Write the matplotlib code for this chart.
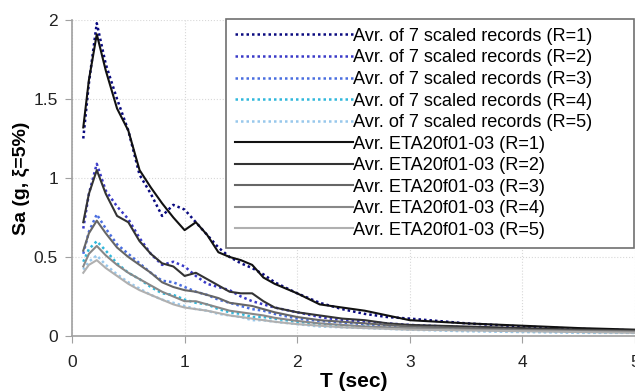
import numpy as np
import matplotlib.pyplot as plt

plt.rcParams['font.family'] = ['Liberation Sans', 'DejaVu Sans']

# period grid (sec)
T = [0.1, 0.15, 0.22, 0.3, 0.4, 0.5, 0.6, 0.7, 0.8, 0.9, 1.0, 1.1, 1.2, 1.3, 1.4,
     1.5, 1.6, 1.7, 1.8, 2.0, 2.2, 2.4, 2.6, 2.8, 3.0, 3.5, 4.0, 4.5, 5.0]

# average of 7 scaled records
rec_r1 = [1.25, 1.60, 1.98, 1.72, 1.50, 1.30, 1.02, 0.90, 0.76, 0.83, 0.80, 0.72, 0.64, 0.56, 0.50,
          0.46, 0.43, 0.39, 0.34, 0.27, 0.21, 0.17, 0.14, 0.12, 0.11, 0.08, 0.06, 0.045, 0.035]
rec_r2 = [0.68, 0.90, 1.09, 0.92, 0.82, 0.74, 0.62, 0.52, 0.45, 0.47, 0.44, 0.38, 0.33, 0.31, 0.29,
          0.25, 0.22, 0.20, 0.18, 0.15, 0.12, 0.10, 0.09, 0.08, 0.07, 0.055, 0.045, 0.035, 0.03]
rec_r3 = [0.52, 0.66, 0.77, 0.68, 0.58, 0.52, 0.46, 0.40, 0.35, 0.34, 0.31, 0.28, 0.26, 0.23, 0.21,
          0.19, 0.17, 0.16, 0.14, 0.11, 0.095, 0.085, 0.075, 0.065, 0.055, 0.045, 0.035, 0.03, 0.025]
rec_r4 = [0.47, 0.55, 0.60, 0.54, 0.46, 0.40, 0.36, 0.31, 0.27, 0.26, 0.23, 0.21, 0.20, 0.17, 0.15,
          0.14, 0.12, 0.12, 0.11, 0.09, 0.075, 0.065, 0.06, 0.05, 0.045, 0.035, 0.03, 0.025, 0.02]
rec_r5 = [0.42, 0.47, 0.51, 0.45, 0.39, 0.34, 0.30, 0.26, 0.23, 0.21, 0.19, 0.17, 0.16, 0.14, 0.13,
          0.12, 0.10, 0.10, 0.09, 0.075, 0.06, 0.055, 0.05, 0.045, 0.04, 0.03, 0.025, 0.02, 0.02]

# average ETA20f01-03
eta_r1 = [1.32, 1.62, 1.91, 1.68, 1.44, 1.30, 1.05, 0.94, 0.84, 0.75, 0.67, 0.72, 0.64, 0.53, 0.50,
          0.48, 0.45, 0.37, 0.33, 0.27, 0.20, 0.18, 0.16, 0.13, 0.10, 0.08, 0.065, 0.05, 0.04]
eta_r2 = [0.72, 0.90, 1.05, 0.90, 0.76, 0.72, 0.60, 0.52, 0.46, 0.44, 0.38, 0.40, 0.36, 0.32, 0.28,
          0.27, 0.27, 0.22, 0.18, 0.15, 0.13, 0.11, 0.10, 0.08, 0.07, 0.06, 0.05, 0.04, 0.035]
eta_r3 = [0.54, 0.65, 0.73, 0.65, 0.56, 0.50, 0.45, 0.40, 0.34, 0.31, 0.29, 0.28, 0.26, 0.24, 0.21,
          0.20, 0.19, 0.17, 0.15, 0.12, 0.10, 0.09, 0.08, 0.07, 0.06, 0.05, 0.04, 0.035, 0.03]
eta_r4 = [0.44, 0.52, 0.57, 0.51, 0.45, 0.40, 0.36, 0.32, 0.28, 0.25, 0.22, 0.22, 0.20, 0.18, 0.16,
          0.15, 0.14, 0.13, 0.115, 0.095, 0.08, 0.07, 0.06, 0.055, 0.05, 0.04, 0.035, 0.03, 0.025]
eta_r5 = [0.40, 0.45, 0.48, 0.43, 0.38, 0.33, 0.29, 0.26, 0.23, 0.20, 0.18, 0.17, 0.16, 0.145, 0.13,
          0.12, 0.11, 0.10, 0.09, 0.075, 0.065, 0.055, 0.05, 0.045, 0.04, 0.035, 0.03, 0.025, 0.02]

rec_series = [rec_r1, rec_r2, rec_r3, rec_r4, rec_r5]
eta_series = [eta_r1, eta_r2, eta_r3, eta_r4, eta_r5]
rec_colors = ['#0a0a80', '#3a3ac8', '#4a6ee0', '#30b8dc', '#98c8ec']
eta_colors = ['#111111', '#333333', '#666666', '#888888', '#b0b0b0']

fig = plt.figure(figsize=(6.35, 3.92), dpi=100)
ax = fig.add_axes([0.1134, 0.1429, 0.8866, 0.806])

for i, (s, c) in enumerate(zip(rec_series, rec_colors)):
    ax.plot(T, s, linestyle=(0, (1, 1.2)), color=c, linewidth=1.8,
            label='Avr. of 7 scaled records (R=%d)' % (i + 1))
for i, (s, c) in enumerate(zip(eta_series, eta_colors)):
    ax.plot(T, s, linestyle='-', color=c, linewidth=1.5,
            label='Avr. ETA20f01-03 (R=%d)' % (i + 1))

ax.set_xlim(0, 5)
ax.set_ylim(0, 2)
ax.set_xticks([0, 1, 2, 3, 4, 5])
ax.set_yticks([0, 0.5, 1, 1.5, 2])
ax.set_yticklabels(['0', '0.5', '1', '1.5', '2'])
ax.grid(True, color='#d8d8d8', linestyle=':', linewidth=0.8)
ax.set_axisbelow(True)
for side in ['top', 'right']:
    ax.spines[side].set_visible(False)
for side in ['left', 'bottom']:
    ax.spines[side].set_color('#a0a0a0')
    ax.spines[side].set_linewidth(1.2)
ax.tick_params(axis='both', length=5, color='#a0a0a0', labelsize=12.5, labelcolor='#222222')
ax.tick_params(axis='x', pad=9)
ax.tick_params(axis='y', pad=5)

ax.set_xlabel('T (sec)', fontsize=15, fontweight='bold', labelpad=1)
ax.set_ylabel('Sa (g, ξ=5%)', fontsize=14, fontweight='bold', labelpad=3)

# legend box stretched over the upper right part of the plot
leg = ax.legend(loc='upper left', bbox_to_anchor=(0.2735, 1.004, 0.7247, 0.0), mode='expand',
                fontsize=13.1, handlelength=6.5, handletextpad=0.0, labelspacing=0.25,
                borderpad=0.5, borderaxespad=0.0, fancybox=False, framealpha=1,
                edgecolor='#707070')
leg.get_frame().set_linewidth(1.2)

fig.savefig('out.png', dpi=100)
